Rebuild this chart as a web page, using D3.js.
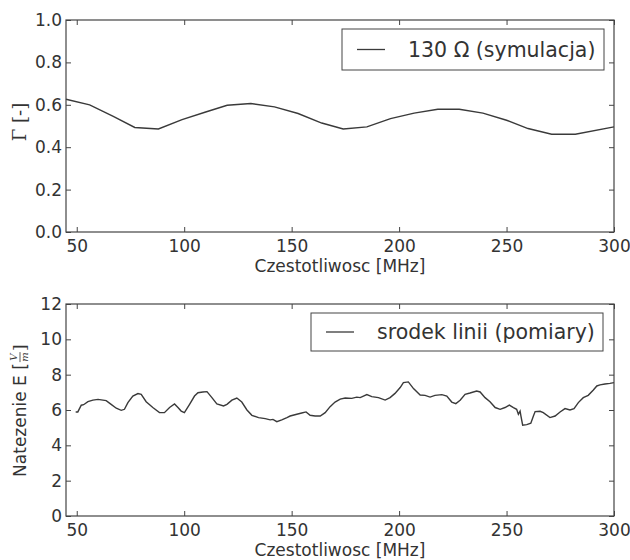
<!DOCTYPE html>
<html>
<head>
<meta charset="utf-8">
<script src="https://cdn.jsdelivr.net/npm/d3@7"></script>
<style>
    body { margin: 0; background: #fff; }
    text { font-family: "DejaVu Sans", sans-serif; fill: #333; }
</style>
</head>
<body>
<script>
// simulated reflection coefficient (top panel)
const simFreq = [45, 56, 67, 77, 88, 99, 110, 120, 131, 142, 153, 164, 174, 185, 196, 207, 218, 228, 239, 250, 260, 271, 282, 300];
const simGamma = [0.626, 0.600, 0.545, 0.493, 0.486, 0.530, 0.566, 0.598, 0.606, 0.590, 0.559, 0.514, 0.486, 0.496, 0.535, 0.561, 0.579, 0.579, 0.561, 0.527, 0.488, 0.461, 0.461, 0.496];

// measured field strength (bottom panel)
const measFreq = [49.5, 50.5, 52.1, 53.2, 55.2, 57.5, 59.9, 63.7, 66.0, 68.4, 70.7, 72.2, 73.8, 76.1, 78.5, 80.0,
    82.3, 85.4, 88.5, 90.8, 93.2, 95.5, 97.1, 98.6, 100.1, 102.5, 104.8, 106.4, 108.7, 110.6, 112.9, 115.2,
    118.3, 119.9, 122.2, 124.5, 126.8, 129.2, 131.5, 134.6, 137.7, 140.0, 141.3, 143.1, 145.4, 147.8, 149.3,
    152.4, 154.7, 156.7, 158.6, 160.9, 163.3, 165.6, 167.9, 170.2, 172.6, 174.9, 178.0, 180.3, 181.9, 185.0,
    187.3, 190.4, 193.5, 195.8, 198.1, 200.5, 202.0, 204.3, 206.7, 209.8, 212.1, 214.4, 216.7, 219.9, 222.2,
    224.5, 226.4, 228.4, 230.7, 233.0, 236.1, 237.7, 240.0, 242.3, 244.7, 247.0, 249.3, 251.3, 253.2, 254.7,
    255.5, 256.3, 256.7, 257.5, 259.4, 261.3, 262.5, 263.3, 265.6, 267.1, 270.2, 272.6, 274.9, 277.2, 279.5,
    281.4, 283.4, 285.7, 288.0, 290.4, 292.0, 293.5, 295.8, 298.1, 300];
const measE = [5.89, 5.89, 6.27, 6.30, 6.47, 6.56, 6.60, 6.53, 6.32, 6.10, 5.98, 6.04, 6.42, 6.79, 6.93, 6.89,
    6.47, 6.14, 5.85, 5.85, 6.14, 6.34, 6.14, 5.94, 5.85, 6.32, 6.79, 6.98, 7.02, 7.04, 6.70, 6.34,
    6.23, 6.32, 6.56, 6.68, 6.45, 6.00, 5.70, 5.57, 5.51, 5.44, 5.47, 5.34, 5.44, 5.57, 5.66,
    5.76, 5.83, 5.89, 5.70, 5.66, 5.66, 5.85, 6.19, 6.45, 6.62, 6.68, 6.66, 6.73, 6.70, 6.87,
    6.76, 6.70, 6.56, 6.70, 6.94, 7.27, 7.55, 7.59, 7.21, 6.85, 6.83, 6.73, 6.83, 6.87, 6.79,
    6.45, 6.36, 6.55, 6.89, 6.96, 7.07, 7.02, 6.70, 6.47, 6.14, 6.04, 6.14, 6.28, 6.14, 6.04,
    5.76, 5.94, 5.66, 5.14, 5.17, 5.25, 5.66, 5.91, 5.93, 5.85, 5.57, 5.66, 5.89, 6.08, 6.00,
    6.08, 6.42, 6.70, 6.83, 7.13, 7.36, 7.42, 7.47, 7.51, 7.55];

const xTicks = [50, 100, 150, 200, 250, 300];
const gammaTicks = [0, 0.2, 0.4, 0.6, 0.8, 1.0];
const eTicks = [0, 2, 4, 6, 8, 10, 12];

const width = 630;
const height = 560;
const marginLeft = 66;
const marginRight = 16;
const axisColor = '#444';
const lineColor = '#3a3a3a';

const svg = d3.select('body')
    .append('svg')
    .attr('width', width)
    .attr('height', height);

// draws one axes box with ticks on all four sides, the line, the legend and the x label
function drawPanel(p)
{
    const g = svg.append('g');
    const x = d3.scaleLinear().domain([45, 300]).range([marginLeft, width - marginRight]);
    const y = d3.scaleLinear().domain(p.yDomain).range([p.bottom, p.top]);

    const tickLen = 5;

    // bottom and top x ticks (pointing inward)
    g.append('g')
        .attr('transform', `translate(0,${p.bottom})`)
        .call(d3.axisBottom(x).tickValues(xTicks).tickSize(-tickLen).tickPadding(8).tickFormat(d3.format('d')));
    g.append('g')
        .attr('transform', `translate(0,${p.top})`)
        .call(d3.axisTop(x).tickValues(xTicks).tickSize(-tickLen).tickFormat(''));

    // left and right y ticks
    g.append('g')
        .attr('transform', `translate(${marginLeft},0)`)
        .call(d3.axisLeft(y).tickValues(p.yTicks).tickSize(-tickLen).tickPadding(4).tickFormat(p.yFormat));
    g.append('g')
        .attr('transform', `translate(${width - marginRight},0)`)
        .call(d3.axisRight(y).tickValues(p.yTicks).tickSize(-tickLen).tickFormat(''));

    g.selectAll('.domain').remove();
    g.selectAll('.tick line').attr('stroke', axisColor);
    g.selectAll('.tick text').attr('font-size', 17).attr('fill', '#333');

    // the line
    const line = d3.line()
        .x((d, i) => x(p.xs[i]))
        .y(d => y(d));
    g.append('path')
        .datum(p.ys)
        .attr('d', line)
        .attr('fill', 'none')
        .attr('stroke', lineColor)
        .attr('stroke-width', 1.4);

    // frame
    g.append('rect')
        .attr('x', marginLeft)
        .attr('y', p.top)
        .attr('width', width - marginRight - marginLeft)
        .attr('height', p.bottom - p.top)
        .attr('fill', 'none')
        .attr('stroke', axisColor)
        .attr('stroke-width', 1.2);

    // legend
    const lg = g.append('g');
    lg.append('rect')
        .attr('x', p.legend.x0)
        .attr('y', p.legend.y0)
        .attr('width', p.legend.x1 - p.legend.x0)
        .attr('height', p.legend.y1 - p.legend.y0)
        .attr('fill', '#fff')
        .attr('stroke', axisColor)
        .attr('stroke-width', 1);
    const ly = (p.legend.y0 + p.legend.y1) / 2;
    lg.append('line')
        .attr('x1', p.legend.x0 + 15)
        .attr('x2', p.legend.x0 + 43)
        .attr('y1', ly)
        .attr('y2', ly)
        .attr('stroke', lineColor)
        .attr('stroke-width', 1.3);
    lg.append('text')
        .attr('x', p.legend.x0 + 66)
        .attr('y', ly + 7)
        .attr('font-size', 20.5)
        .text(p.label);

    // x label
    g.append('text')
        .attr('x', 340)
        .attr('y', p.bottom + 40)
        .attr('text-anchor', 'middle')
        .attr('font-size', 17)
        .text('Czestotliwosc [MHz]');

    return g;
}

drawPanel({
    top: 20, bottom: 232,
    yDomain: [0, 1], yTicks: gammaTicks, yFormat: d3.format('.1f'),
    xs: simFreq, ys: simGamma,
    legend: {x0: 342, x1: 604, y0: 29, y1: 70},
    label: '130 Ω (symulacja)'
});

drawPanel({
    top: 304, bottom: 516,
    yDomain: [0, 12], yTicks: eTicks, yFormat: d3.format('d'),
    xs: measFreq, ys: measE,
    legend: {x0: 311, x1: 603, y0: 313, y1: 351},
    label: 'srodek linii (pomiary)'
});

// top y label (math style)
svg.append('text')
    .attr('transform', 'translate(26,122) rotate(-90)')
    .attr('text-anchor', 'middle')
    .style('font-family', '"DejaVu Serif", serif')
    .attr('font-size', 18)
    .text('Γ [-]');

// bottom y label with a small V/m fraction
const yl = svg.append('g').attr('transform', 'translate(26,411) rotate(-90)');
const t1 = yl.append('text').attr('font-size', 17).text('Natezenie E [');
const w1 = t1.node().getComputedTextLength();
const fx = w1 + 1;
const fw = 10;
yl.append('text').attr('x', fx + fw / 2).attr('y', -9).attr('text-anchor', 'middle')
    .attr('font-size', 10).style('font-family', '"DejaVu Serif", serif').style('font-style', 'italic').text('V');
yl.append('line').attr('x1', fx).attr('x2', fx + fw).attr('y1', -6).attr('y2', -6)
    .attr('stroke', '#333').attr('stroke-width', 0.8);
yl.append('text').attr('x', fx + fw / 2).attr('y', 1.5).attr('text-anchor', 'middle')
    .attr('font-size', 10).style('font-family', '"DejaVu Serif", serif').style('font-style', 'italic').text('m');
yl.append('text').attr('x', fx + fw + 1).attr('font-size', 17).style('font-family', '"DejaVu Serif", serif').text(']');
const total = fx + fw + 7;
yl.attr('transform', `translate(26,${411 + total / 2}) rotate(-90)`);
</script>
</body>
</html>
